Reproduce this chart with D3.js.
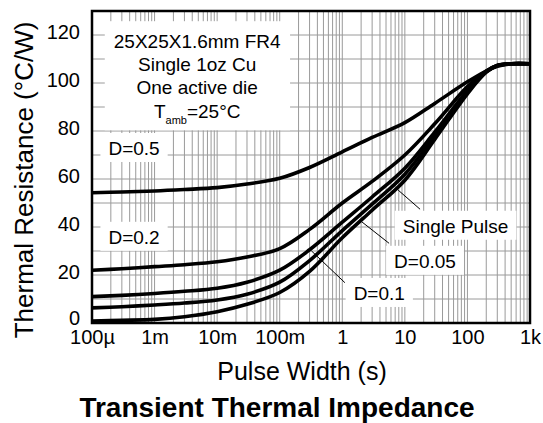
<!DOCTYPE html>
<html>
<head>
<meta charset="utf-8">
<script src="https://cdn.jsdelivr.net/npm/d3@7"></script>
<style>
  body { margin: 0; background: #fff; }
  text { font-family: "Liberation Sans", Arial, sans-serif; fill: #000; }
</style>
</head>
<body>
<div id="chart"></div>
<script>
// pulse widths (s) and thermal resistance (°C/W) per duty cycle
const pulse = [1e-4, 3e-4, 1e-3, 3e-3, 1e-2, 3e-2, 0.1, 0.3, 1, 3, 10, 30, 100, 200, 300, 500, 1000];
const d05 = [54.3, 54.6, 55, 55.6, 56.4, 57.9, 60.3, 64.8, 71.3, 77.3, 83.5, 91.5, 100.5, 105, 107, 108, 108];
const d02 = [22, 22.6, 23.5, 24.3, 25.5, 27.5, 31, 39, 50, 59, 70, 83, 98.5, 105, 107.3, 108, 108];
const d01 = [11, 11.5, 12.3, 13.2, 14.5, 17, 22, 30.5, 42, 52.5, 64.5, 79.5, 96.8, 104.8, 107.3, 108, 108];
const d005 = [6.3, 6.8, 7.5, 8.3, 9.6, 12, 17, 26, 38.5, 49.5, 62, 78, 96.2, 104.7, 107.3, 108, 108];
const single = [0.8, 1.1, 1.5, 2.6, 4.7, 7.8, 12.7, 21.5, 35.5, 47, 59.5, 76.5, 95.5, 104.5, 107.2, 108, 108];
const series = [d05, d02, d01, d005, single];

const xTicks = [1e-4, 1e-3, 1e-2, 0.1, 1, 10, 100, 1000];
const xTickLabels = ['100\u00b5', '1m', '10m', '100m', '1', '10', '100', '1k'];
const yTicks = [0, 20, 40, 60, 80, 100, 120];

// curve labels (anchor = text centre / baseline, in data units)
const labelText = ['D=0.5', 'D=0.2', 'D=0.1', 'D=0.05', 'Single Pulse'];
const labelT = [4.7e-4, 4.7e-4, 3.9, 21, 64.6];
const labelV = [70, 33, 9.6, 23, 37.6];
// leader lines for the lower curves
const leadFromT = [0.32, 2.04, 7.8];
const leadFromV = [30.1, 42.2, 55.4];
const leadToT = [1.1, 5.6, 17.5];
const leadToV = [16.8, 33.2, 47.4];

const noteLines = ['25X25X1.6mm FR4', 'Single 1oz Cu', 'One active die'];
const noteT = 4.8e-3;
const noteV = [114.5, 104.8, 95.3, 85.3];

const margin = { top: 11, right: 13, bottom: 100, left: 92 };
const width = 543 - margin.left - margin.right;
const height = 423 - margin.top - margin.bottom;

const x = d3.scaleLog().domain([1e-4, 1e3]).range([0, width]);
const y = d3.scaleLinear().domain([0, 130]).range([height, 0]);

const root = d3.select('#chart')
  .append('svg')
  .attr('width', 543)
  .attr('height', 423);

const svg = root.append('g')
  .attr('transform', `translate(${margin.left},${margin.top})`);

// grid
const vGrid = [];
for (let e = -4; e < 3; e++) for (let k = 1; k < 10; k++) vGrid.push(k * Math.pow(10, e));
svg.append('g').selectAll('line')
  .data(vGrid)
  .enter().append('line')
  .attr('x1', d => x(d)).attr('x2', d => x(d))
  .attr('y1', 0).attr('y2', height)
  .attr('stroke', '#9a9a9a').attr('stroke-width', 1);

svg.append('g').selectAll('line')
  .data(d3.range(10, 130, 10))
  .enter().append('line')
  .attr('x1', 0).attr('x2', width)
  .attr('y1', d => y(d)).attr('y2', d => y(d))
  .attr('stroke', '#9a9a9a').attr('stroke-width', 1);

// layers: white boxes, leaders, curves, text
const boxLayer = svg.append('g');
const leadLayer = svg.append('g');
const curveLayer = svg.append('g');
const textLayer = svg.append('g');

// note box text
const note = textLayer.append('g');
noteLines.forEach((s, i) => {
  note.append('text')
    .attr('x', x(noteT)).attr('y', y(noteV[i]))
    .attr('text-anchor', 'middle')
    .style('font-size', '19px')
    .text(s);
});
const tamb = note.append('text')
  .attr('x', x(noteT)).attr('y', y(noteV[3]))
  .attr('text-anchor', 'middle')
  .style('font-size', '19px');
tamb.append('tspan').text('T');
tamb.append('tspan').attr('dy', 6).style('font-size', '11px').text('amb');
tamb.append('tspan').attr('dy', -6).text('=25\u00b0C');

let bb = note.node().getBBox();
boxLayer.append('rect')
  .attr('x', bb.x - 9).attr('y', bb.y - 10)
  .attr('width', bb.width + 18).attr('height', bb.height + 14)
  .attr('fill', '#fff');

// curve labels
labelText.forEach((s, i) => {
  const t = textLayer.append('text')
    .attr('x', x(labelT[i])).attr('y', y(labelV[i]))
    .attr('text-anchor', 'middle')
    .style('font-size', '19px')
    .text(s);
  const b = t.node().getBBox();
  boxLayer.append('rect')
    .attr('x', b.x - 8).attr('y', b.y - 5)
    .attr('width', b.width + 16).attr('height', b.height + 8)
    .attr('fill', '#fff');
});

leadLayer.selectAll('line')
  .data(leadFromT)
  .enter().append('line')
  .attr('x1', (d, i) => x(leadFromT[i])).attr('y1', (d, i) => y(leadFromV[i]))
  .attr('x2', (d, i) => x(leadToT[i])).attr('y2', (d, i) => y(leadToV[i]))
  .attr('stroke', '#000').attr('stroke-width', 1);

// curves
const line = d3.line()
  .x((d, i) => x(pulse[i]))
  .y(d => y(d))
  .curve(d3.curveCatmullRom.alpha(0.5));

curveLayer.selectAll('path')
  .data(series)
  .enter().append('path')
  .attr('d', line)
  .attr('fill', 'none')
  .attr('stroke', '#000')
  .attr('stroke-width', 3.6)
  .attr('stroke-linejoin', 'round');

// frame
svg.append('rect')
  .attr('width', width).attr('height', height)
  .attr('fill', 'none').attr('stroke', '#000').attr('stroke-width', 2.5);

// axes
const xAxis = svg.append('g')
  .attr('transform', `translate(0,${height})`)
  .call(d3.axisBottom(x).tickValues(xTicks).tickFormat((d, i) => xTickLabels[i]).tickSize(0).tickPadding(5));
xAxis.select('.domain').remove();
xAxis.selectAll('text').style('font-size', '20px').attr('font-family', null).attr('dy', '0.82em');

const yAxis = svg.append('g')
  .call(d3.axisLeft(y).tickValues(yTicks).tickSize(0).tickPadding(12));
yAxis.select('.domain').remove();
yAxis.selectAll('text').style('font-size', '20px').attr('font-family', null)
  .attr('dy', d => d === 0 ? '0.05em' : '0.16em');

// axis titles
root.append('text')
  .attr('x', 302).attr('y', 380)
  .attr('text-anchor', 'middle')
  .style('font-size', '25px')
  .text('Pulse Width (s)');

root.append('text')
  .attr('transform', 'translate(33,180) rotate(-90)')
  .attr('text-anchor', 'middle')
  .style('font-size', '26px')
  .text('Thermal Resistance (\u00b0C/W)');

root.append('text')
  .attr('x', 277).attr('y', 417)
  .attr('text-anchor', 'middle')
  .style('font-size', '28px')
  .style('font-weight', 'bold')
  .text('Transient Thermal Impedance');
</script>
</body>
</html>
